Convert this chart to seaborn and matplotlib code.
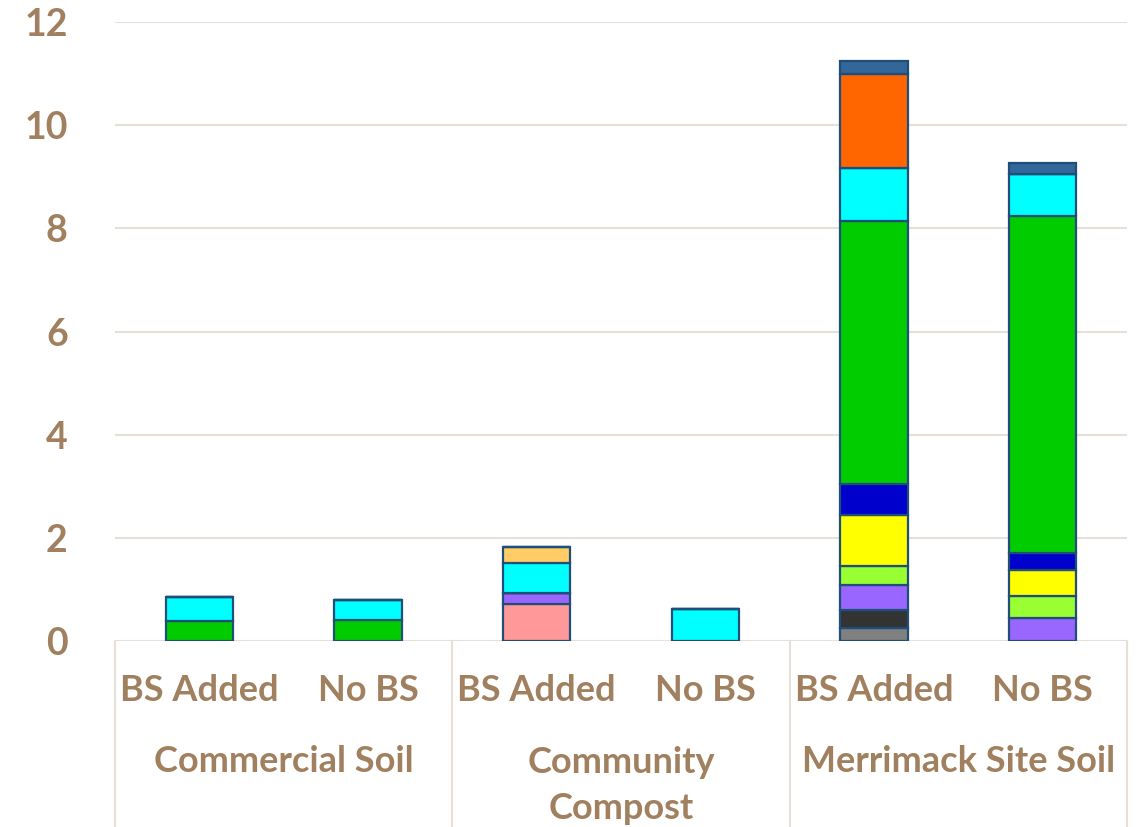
import matplotlib
matplotlib.use("Agg")
import matplotlib.pyplot as plt
import matplotlib.transforms as mtransforms
import numpy as np
import pandas as pd
import seaborn as sns

# Bars: soil type x treatment
groups = ["Commercial Soil", "Community\nCompost", "Merrimack Site Soil"]
treatments = ["BS Added", "No BS", "BS Added", "No BS", "BS Added", "No BS"]
bar_pos = [0, 1, 2, 3, 4, 5]

# Stacked components, listed bottom to top; one value per bar
series_names = ["grey", "charcoal", "pink", "violet", "lime", "yellow",
                "navy", "green", "cyan", "apricot", "orange", "steel"]
grey     = [0.00, 0.00, 0.00, 0.00, 0.25, 0.00]
charcoal = [0.00, 0.00, 0.00, 0.00, 0.35, 0.00]
pink     = [0.00, 0.00, 0.72, 0.00, 0.00, 0.00]
violet   = [0.00, 0.00, 0.22, 0.00, 0.48, 0.45]
lime     = [0.00, 0.00, 0.00, 0.00, 0.38, 0.42]
yellow   = [0.00, 0.00, 0.00, 0.00, 0.99, 0.51]
navy     = [0.00, 0.00, 0.00, 0.00, 0.59, 0.32]
green    = [0.39, 0.41, 0.00, 0.00, 5.11, 6.54]
cyan     = [0.46, 0.39, 0.58, 0.62, 1.02, 0.82]
apricot  = [0.00, 0.00, 0.30, 0.00, 0.00, 0.00]
orange   = [0.00, 0.00, 0.00, 0.00, 1.83, 0.00]
steel    = [0.00, 0.00, 0.00, 0.00, 0.25, 0.20]

series_values = [grey, charcoal, pink, violet, lime, yellow,
                 navy, green, cyan, apricot, orange, steel]
series_colors = ["#808080", "#333333", "#FF9999", "#9966FF", "#99FF33", "#FFFF00",
                 "#0000CC", "#00CC00", "#00FFFF", "#FFCC66", "#FF6600", "#336699"]

yticks = [0, 2, 4, 6, 8, 10, 12]

TEXT = "#A0805F"
GRID = "#E6E0D8"
EDGE = "#1F4E79"

rows = []
for name, vals in zip(series_names, series_values):
    for p, v in zip(bar_pos, vals):
        if v > 0:
            rows.append({"pos": p, "value": v, "component": name})
df = pd.DataFrame(rows)

sns.set_theme(style="white")
plt.rcParams["font.family"] = ["Lato", "DejaVu Sans"]

fig = plt.figure(figsize=(11.36, 8.27), dpi=100)
ax = fig.add_axes([0.1012, 0.2249, 0.8908, 0.7485])

# seaborn stacks the last hue level at the bottom, so pass the order top-down
sns.histplot(data=df, x="pos", weights="value", hue="component",
             hue_order=series_names[::-1],
             palette=dict(zip(series_names, series_colors)),
             multiple="stack", discrete=True, shrink=0.4,
             alpha=1, edgecolor=EDGE, linewidth=1.6,
             legend=False, ax=ax, zorder=3)

ax.set_xlim(-0.5, 5.5)
ax.set_ylim(0, 12)
ax.set_yticks(yticks)
ax.set_yticklabels([str(t) for t in yticks], fontsize=27, fontweight="bold", color=TEXT)
ax.tick_params(axis="y", length=0, pad=34)
ax.set_xticks([])
ax.set_xlabel("")
ax.set_ylabel("")
for s in ax.spines.values():
    s.set_visible(False)
ax.yaxis.grid(True, color=GRID, linewidth=1.5, zorder=0)
ax.set_axisbelow(True)

# category axis below the plot
trans = mtransforms.blended_transform_factory(ax.transData, ax.transAxes)
axis_bottom = -186 / 619
for xb in [-0.5, 1.5, 3.5, 5.5]:
    ax.plot([xb, xb], [0, axis_bottom], transform=trans, color=GRID,
            linewidth=1.5, clip_on=False)
for p, t in zip(bar_pos, treatments):
    ax.text(p, -0.080, t, transform=trans, ha="center", va="center",
            fontsize=26, fontweight="bold", color=TEXT)
for i, g in enumerate(groups):
    xc = 2 * i + 0.5
    if "\n" in g:
        ax.text(xc, -0.2335, g, transform=trans, ha="center", va="center",
                fontsize=26, fontweight="bold", color=TEXT, linespacing=1.5)
    else:
        ax.text(xc, -0.194, g, transform=trans, ha="center", va="center",
                fontsize=26, fontweight="bold", color=TEXT)

fig.savefig("out.png", dpi=100)
